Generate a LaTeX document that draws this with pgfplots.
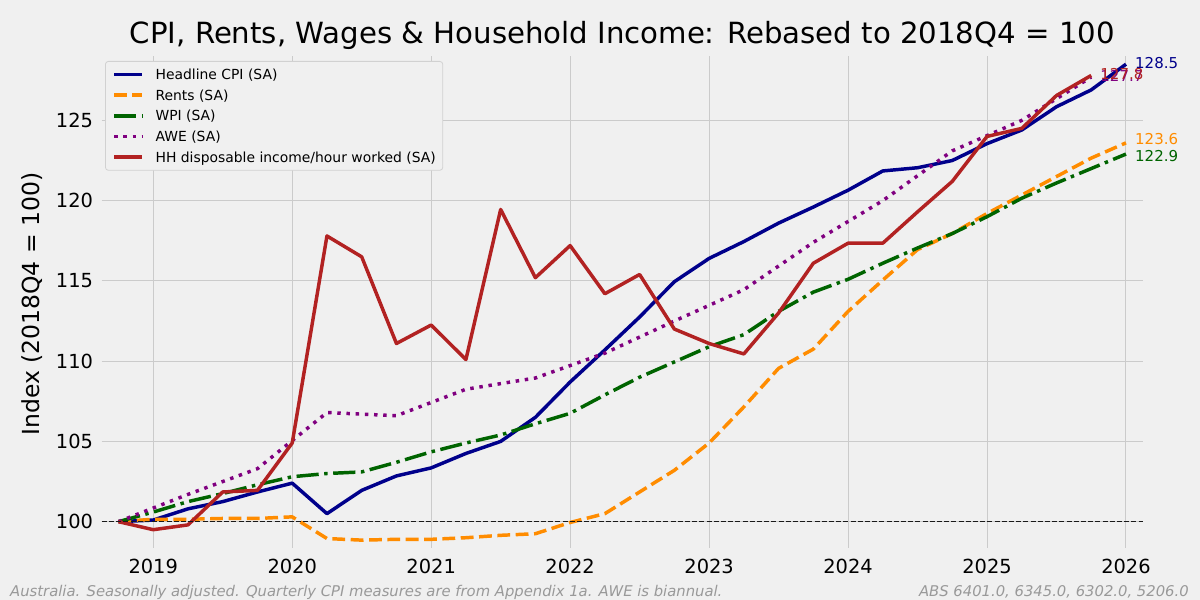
\documentclass[border=0pt]{standalone}
\usepackage{fontspec}
\setmainfont{DejaVu Sans}
\usepackage{pgfplots}
\usepackage{pgfplotstable}
\pgfplotsset{compat=1.18}

\definecolor{bg}{HTML}{F0F0F0}
\definecolor{gridc}{HTML}{CBCBCB}
\definecolor{cpic}{HTML}{00008B}
\definecolor{rentc}{HTML}{FF8C00}
\definecolor{wpic}{HTML}{006400}
\definecolor{awec}{HTML}{800080}
\definecolor{hhc}{HTML}{B22222}
\definecolor{notec}{HTML}{999999}

\newcommand\fs[1]{\fontsize{#1}{#1}\selectfont}

% Quarterly series, rebased to 2018Q4 = 100 (x = decimal year of quarter start)
\pgfplotstableread{
x       cpi     rent    wpi     hh
2018.75 100.00  100.00  100.00  100.00
2019.00 100.10  100.15  100.60  99.50
2019.25 100.80  100.15  101.25  99.80
2019.50 101.25  100.20  101.75  101.85
2019.75 101.85  100.20  102.30  101.95
2020.00 102.40  100.30  102.80  104.90
2020.25 100.50  98.95   103.00  117.80
2020.50 101.95  98.85   103.10  116.50
2020.75 102.85  98.90   103.70  111.10
2021.00 103.35  98.90   104.35  112.25
2021.25 104.25  99.00   104.90  110.10
2021.50 105.00  99.15   105.40  119.45
2021.75 106.50  99.25   106.10  115.20
2022.00 108.70  99.95   106.75  117.20
2022.25 110.70  100.50  107.90  114.20
2022.50 112.75  101.85  109.00  115.40
2022.75 114.95  103.20  109.95  112.00
2023.00 116.40  104.90  110.90  111.10
2023.25 117.45  107.15  111.65  110.45
2023.50 118.60  109.55  113.10  113.00
2023.75 119.60  110.75  114.30  116.10
2024.00 120.65  113.10  115.10  117.35
2024.25 121.85  115.05  116.10  117.35
2024.50 122.05  116.95  117.05  119.30
2024.75 122.50  117.95  117.95  121.20
2025.00 123.55  119.20  119.00  124.00
2025.25 124.40  120.35  120.15  124.50
2025.50 125.85  121.50  121.10  126.55
2025.75 126.90  122.65  122.00  127.80
2026.00 128.50  123.60  122.90  nan
}\quarterly

% Average weekly earnings, biannual
\pgfplotstableread{
x       awe
2018.75 100.00
2019.25 101.70
2019.75 103.30
2020.25 106.80
2020.75 106.60
2021.25 108.25
2021.75 108.95
2022.25 110.50
2022.75 112.50
2023.25 114.45
2023.75 117.40
2024.25 120.00
2024.75 123.10
2025.25 125.00
2025.75 127.70
}\awe

\begin{document}
\begin{tikzpicture}[x=1pt, y=1pt,
  value label/.style={anchor=west, inner sep=0pt, xshift=9pt, yshift=1.5pt, font=\fs{15}}]
\fill[bg] (0,0) rectangle (1200,600);
\path[use as bounding box] (0,0) rectangle (1200,600);
\begin{axis}[
  at={(101.7pt,52pt)}, anchor=south west,
  scale only axis, width=1041.3pt, height=491.5pt,
  xmin=2018.629, xmax=2026.122, ymin=98.36, ymax=128.98,
  axis background/.style={fill=bg},
  axis line style={draw=none},
  major tick length=0pt,
  xtick={2019,2020,2021,2022,2023,2024,2025,2026},
  xticklabels={2019,2020,2021,2022,2023,2024,2025,2026},
  ytick={100,105,110,115,120,125},
  yticklabels={100,105,110,115,120,125},
  xticklabel style={font=\fs{19.4}, anchor=base, yshift=-25pt, inner sep=0pt},
  yticklabel style={font=\fs{19.4}, anchor=east, xshift=-8.5pt, inner sep=0pt},
  grid=major,
  major grid style={draw=gridc, line width=1pt},
  clip=false,
  every axis plot/.append style={mark=none, line join=round, line width=3.47pt},
  legend cell align=left,
  legend image code/.code={\draw[#1] (0pt,0pt) -- (28pt,0pt);},
  legend style={at={(0,1)}, anchor=north west, xshift=3.3pt, yshift=-4.5pt,
    fill=bg, draw=black!18, line width=0.8pt, rounded corners=3pt,
    font=\fs{13.9}, inner xsep=7pt, inner ysep=6.2pt,
    row sep=6.8pt, column sep=11.7pt,
    nodes={inner sep=0pt, text height=12pt, text depth=1.86pt}},
]
\addplot[cpic] table[x=x, y=cpi] {\quarterly};
\addlegendentry{Headline CPI (SA)}
\addplot[rentc, dash pattern=on 12.8pt off 5.55pt] table[x=x, y=rent] {\quarterly};
\addlegendentry{Rents (SA)}
\addplot[wpic, dash pattern=on 22.2pt off 5.55pt on 3.47pt off 5.55pt] table[x=x, y=wpi] {\quarterly};
\addlegendentry{WPI (SA)}
\addplot[awec, dash pattern=on 3.47pt off 5.73pt] table[x=x, y=awe] {\awe};
\addlegendentry{AWE (SA)}
\addplot[hhc, unbounded coords=discard] table[x=x, y=hh] {\quarterly};
\addlegendentry{HH disposable income/hour worked (SA)}

% reference level
\addplot[black!90, line width=1.2pt, dash pattern=on 5pt off 2.2pt, forget plot]
  coordinates {(2018.629,100) (2026.122,100)};

% latest values
\node[value label, text=cpic]  at (axis cs:2026,128.5) {128.5};
\node[value label, text=rentc, yshift=2.5pt] at (axis cs:2026,123.6) {123.6};
\node[value label, text=wpic, yshift=-3.5pt]  at (axis cs:2026,122.9) {122.9};
\node[value label, text=awec]  at (axis cs:2025.75,127.7) {127.7};
\node[value label, text=hhc]   at (axis cs:2025.75,127.8) {127.8};
\end{axis}

\node[anchor=base, inner sep=0pt, font=\fs{29.2}] at (622.3,556.6)
  {CPI, Rents, Wages \& Household Income: Rebased to 2018Q4 = 100};
\node[rotate=90, inner sep=0pt, font=\fs{23.5}] at (32.5,296) {Index (2018Q4 = 100)};
\node[anchor=base west, inner sep=0pt, font=\fs{14.8}\itshape, text=notec] at (10,4)
  {Australia. Seasonally adjusted. Quarterly CPI measures are from Appendix 1a. AWE is biannual.};
\node[anchor=base east, inner sep=0pt, font=\fs{14.8}\itshape, text=notec] at (1189,4)
  {ABS 6401.0, 6345.0, 6302.0, 5206.0};
\end{tikzpicture}
\end{document}
